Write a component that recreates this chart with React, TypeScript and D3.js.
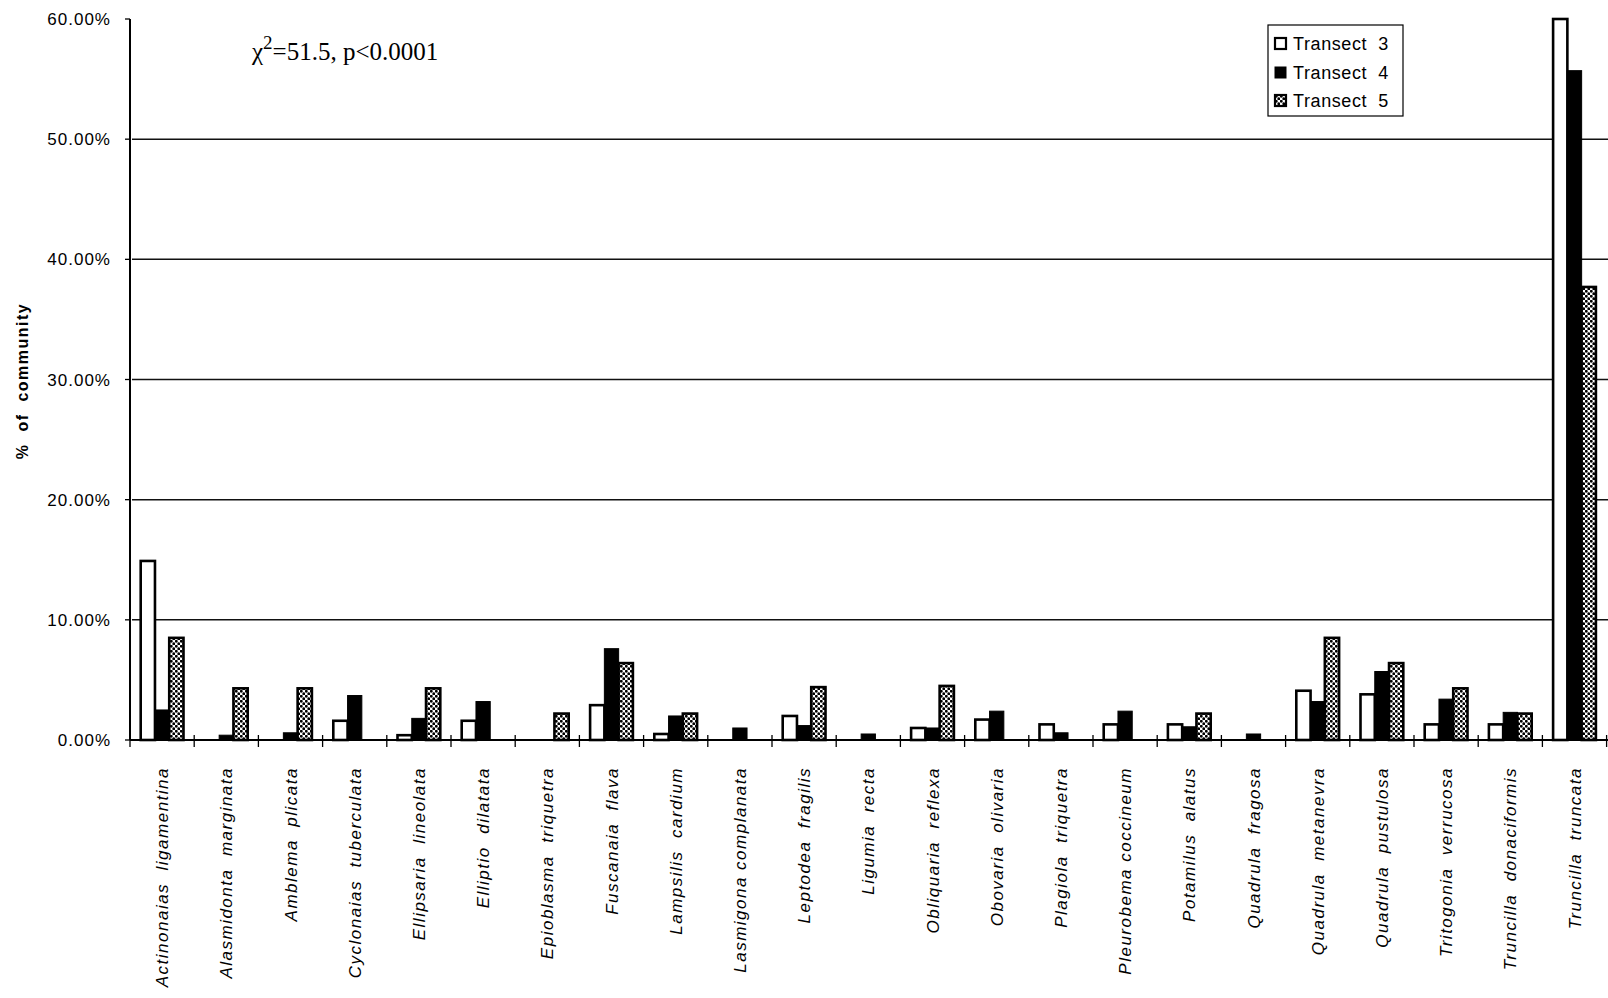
import React, { useEffect } from 'react';
import * as d3 from 'd3';

const categories = [
  'Actinonaias  ligamentina',
  'Alasmidonta  marginata',
  'Amblema  plicata',
  'Cyclonaias  tuberculata',
  'Ellipsaria  lineolata',
  'Elliptio  dilatata',
  'Epioblasma  triquetra',
  'Fuscanaia  flava',
  'Lampsilis  cardium',
  'Lasmigona complanata',
  'Leptodea  fragilis',
  'Ligumia  recta',
  'Obliquaria  reflexa',
  'Obovaria  olivaria',
  'Plagiola  triquetra',
  'Pleurobema coccineum',
  'Potamilus  alatus',
  'Quadrula  fragosa',
  'Quadrula  metanevra',
  'Quadrula  pustulosa',
  'Tritogonia  verrucosa',
  'Truncilla  donaciformis',
  'Truncilla  truncata',
];

const seriesNames = ['Transect  3', 'Transect  4', 'Transect  5'];

const transect3 = [14.9, 0, 0, 1.6, 0.4, 1.6, 0, 2.9, 0.5, 0, 2.0, 0, 1.0, 1.7, 1.3, 1.3, 1.3, 0, 4.1, 3.8, 1.3, 1.3, 60.0];
const transect4 = [2.5, 0.4, 0.6, 3.7, 1.8, 3.2, 0, 7.6, 2.0, 1.0, 1.2, 0.5, 1.0, 2.4, 0.6, 2.4, 1.1, 0.5, 3.2, 5.7, 3.4, 2.3, 55.7];
const transect5 = [8.5, 4.3, 4.3, 0, 4.3, 0, 2.2, 6.4, 2.2, 0, 4.4, 0, 4.5, 0, 0, 0, 2.2, 0, 8.5, 6.4, 4.3, 2.2, 37.7];

const yTicks = [0, 10, 20, 30, 40, 50, 60];
const gridTicks = [10, 20, 30, 40, 50];

const W = 1608;
const H = 998;
const SANS = '"Liberation Sans", Arial, Helvetica, sans-serif';
const SERIF = '"Liberation Serif", "Times New Roman", serif';

export default function App() {
  useEffect(() => {
    document.body.style.margin = '0';
    document.body.style.overflow = 'hidden';
  }, []);

  const x0 = 130;
  const catW = 64.2;
  const x = d3
    .scaleBand<string>()
    .domain(categories)
    .range([x0, x0 + catW * categories.length])
    .paddingInner(0)
    .paddingOuter(0);
  const xs = d3
    .scaleBand<string>()
    .domain(seriesNames)
    .range([0, x.bandwidth()])
    .paddingInner(0)
    .paddingOuter(0.75);
  const y = d3.scaleLinear().domain([0, 60]).range([740, 19]);

  const series = [transect3, transect4, transect5];
  const fills = ['#ffffff', '#000000', 'url(#dots)'];

  const fmt = (v: number) => v.toFixed(2) + '%';

  return (
    <svg
      width={W}
      height={H}
      viewBox={`0 0 ${W} ${H}`}
      style={{ position: 'absolute', left: 0, top: 0, background: '#fff', display: 'block' }}
    >
      <defs>
        <pattern id="dots" width="5" height="5" patternUnits="userSpaceOnUse">
          <rect width="5" height="5" fill="#fff" />
          <circle cx="1.3" cy="1.3" r="1.45" fill="#000" />
          <circle cx="3.8" cy="3.8" r="1.45" fill="#000" />
        </pattern>
      </defs>
      <rect x={0} y={0} width={W} height={H} fill="#fff" />

      {/* gridlines */}
      {gridTicks.map((t) => (
        <line key={'g' + t} x1={x0 + 2} x2={W} y1={y(t)} y2={y(t)} stroke="#111" strokeWidth={1.5} />
      ))}

      {/* bars */}
      {series.map((vals, si) =>
        vals.map((v, ci) => {
          if (v <= 0) return null;
          const bx = (x(categories[ci]) as number) + (xs(seriesNames[si]) as number);
          const bw = xs.bandwidth();
          const top = y(v);
          return (
            <rect
              key={`b${si}-${ci}`}
              x={bx}
              y={top}
              width={bw}
              height={y(0) - top}
              fill={fills[si]}
              stroke="#000"
              strokeWidth={si === 1 ? 1 : 2.6}
            />
          );
        })
      )}

      {/* y axis */}
      <line x1={x0} x2={x0} y1={y(60)} y2={y(0)} stroke="#000" strokeWidth={2} />
      {yTicks.map((t) => (
        <g key={'yt' + t}>
          <line x1={x0 - 5} x2={x0} y1={y(t)} y2={y(t)} stroke="#000" strokeWidth={1.3} />
          <text
            x={111}
            y={y(t)}
            dy="0.36em"
            textAnchor="end"
            fontFamily={SANS}
            fontSize={17}
            letterSpacing={1}
            fill="#000"
          >
            {fmt(t)}
          </text>
        </g>
      ))}

      {/* x axis */}
      <line x1={x0} x2={W} y1={y(0)} y2={y(0)} stroke="#000" strokeWidth={2} />
      {categories.map((c, i) => (
        <line
          key={'xt' + i}
          x1={(x(c) as number) + catW}
          x2={(x(c) as number) + catW}
          y1={y(0) - 5}
          y2={y(0) + 7}
          stroke="#000"
          strokeWidth={1.3}
        />
      ))}
      <line x1={x0} x2={x0} y1={y(0)} y2={y(0) + 7} stroke="#000" strokeWidth={1.3} />

      {/* category labels */}
      {categories.map((c) => {
        const cx = (x(c) as number) + x.bandwidth() / 2;
        return (
          <text
            key={'cl' + c}
            transform={`translate(${cx},767) rotate(-90)`}
            textAnchor="end"
            dy="0.36em"
            fontFamily={SANS}
            fontStyle="italic"
            fontSize={17}
            letterSpacing={1.5}
            fill="#000"
            style={{ whiteSpace: 'pre' }}
          >
            {c}
          </text>
        );
      })}

      {/* y axis title */}
      <text
        transform="translate(22,381) rotate(-90)"
        textAnchor="middle"
        dy="0.36em"
        fontFamily={SANS}
        fontWeight="bold"
        fontSize={16}
        letterSpacing={1.5}
        fill="#000"
        style={{ whiteSpace: 'pre' }}
      >
        {'%  of  community'}
      </text>

      {/* chi-square annotation */}
      <text x={252} y={60} fontFamily={SERIF} fontSize={25} fill="#000">
        χ
        <tspan dy={-11} fontSize={19}>2</tspan>
        <tspan dy={11}>=51.5, p&lt;0.0001</tspan>
      </text>

      {/* legend */}
      <rect x={1268} y={25} width={135} height={91} fill="#fff" stroke="#000" strokeWidth={1.2} />
      {seriesNames.map((s, i) => {
        const by = [50, 79, 107][i];
        return (
          <g key={'lg' + s}>
            <rect
              x={1275}
              y={by - 12}
              width={11}
              height={11}
              fill={fills[i]}
              stroke="#000"
              strokeWidth={i === 1 ? 1 : 2.2}
            />
            <text
              x={1293}
              y={by}
              fontFamily={SANS}
              fontSize={18}
              letterSpacing={0.6}
              fill="#000"
              style={{ whiteSpace: 'pre' }}
            >
              {s}
            </text>
          </g>
        );
      })}
    </svg>
  );
}
